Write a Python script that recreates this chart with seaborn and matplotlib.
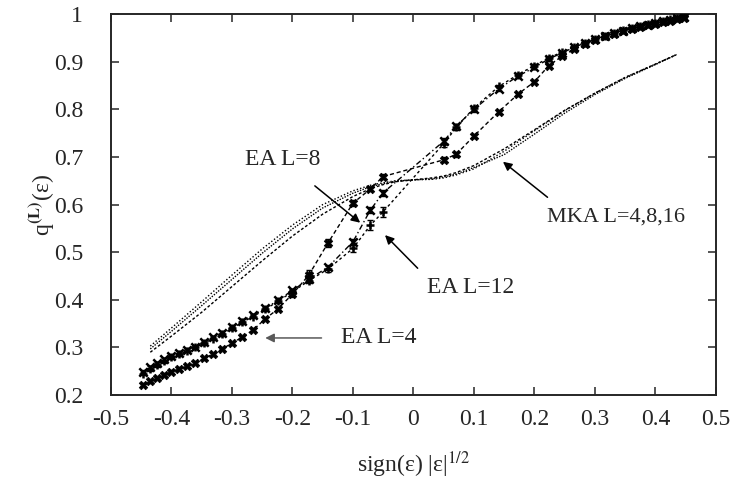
import numpy as np
import pandas as pd
import seaborn as sns
import matplotlib
matplotlib.use("Agg")
import matplotlib.pyplot as plt

# EA data points, x = sign(eps)|eps|^(1/2)
x_ea = [-0.447, -0.436, -0.424, -0.412, -0.400, -0.387, -0.374, -0.361, -0.346, -0.332,
        -0.316, -0.300, -0.283, -0.265, -0.245, -0.224, -0.200, -0.173, -0.141, -0.100,
        -0.071, -0.050, 0.050, 0.071, 0.100, 0.141, 0.173, 0.200, 0.224, 0.245,
        0.265, 0.283, 0.300, 0.316, 0.332, 0.346, 0.361, 0.374, 0.387, 0.400,
        0.412, 0.424, 0.436, 0.447]
q_ea4 = [0.222, 0.229, 0.236, 0.243, 0.249, 0.255, 0.261, 0.268, 0.277, 0.286,
         0.297, 0.309, 0.322, 0.337, 0.360, 0.381, 0.412, 0.452, 0.520, 0.603,
         0.633, 0.659, 0.694, 0.706, 0.744, 0.795, 0.832, 0.858, 0.892, 0.911,
         0.926, 0.937, 0.946, 0.953, 0.959, 0.964, 0.969, 0.973, 0.977, 0.980,
         0.983, 0.986, 0.989, 0.992]
q_ea8 = [0.249, 0.258, 0.267, 0.275, 0.282, 0.289, 0.295, 0.302, 0.311, 0.321,
         0.331, 0.343, 0.356, 0.368, 0.382, 0.399, 0.420, 0.443, 0.469, 0.522,
         0.589, 0.625, 0.733, 0.765, 0.800, 0.843, 0.870, 0.888, 0.906, 0.918,
         0.930, 0.939, 0.947, 0.954, 0.960, 0.965, 0.970, 0.974, 0.978, 0.981,
         0.985, 0.988, 0.991, 0.994]
q_ea12 = [0.245, 0.254, 0.263, 0.271, 0.279, 0.286, 0.293, 0.300, 0.309, 0.318,
          0.328, 0.340, 0.353, 0.365, 0.380, 0.397, 0.417, 0.440, 0.465, 0.508,
          0.557, 0.585, 0.728, 0.762, 0.803, 0.848, 0.873, 0.892, 0.908, 0.920,
          0.931, 0.940, 0.948, 0.955, 0.961, 0.966, 0.971, 0.975, 0.979, 0.982,
          0.986, 0.989, 0.992, 0.995]
err_ea4 = [0.003] * 16 + [0.005, 0.010, 0.008, 0.006, 0.005, 0.005,
                          0.005, 0.005, 0.005, 0.004] + [0.003] * 18
err_ea8 = [0.003] * 17 + [0.004, 0.005, 0.006, 0.006, 0.006,
                          0.006, 0.005, 0.005, 0.004] + [0.003] * 18
err_ea12 = [0.003] * 17 + [0.004, 0.006, 0.008, 0.010, 0.010,
                           0.008, 0.006, 0.005, 0.004] + [0.003] * 18

# MKA curves
x_mka = [-0.435, -0.40, -0.35, -0.30, -0.25, -0.20, -0.15, -0.10, -0.07, -0.05, -0.03,
         0.0, 0.03, 0.05, 0.07, 0.10, 0.15, 0.20, 0.25, 0.30, 0.35, 0.40, 0.435]
q_mka4 = [0.303, 0.341, 0.396, 0.452, 0.507, 0.557, 0.600, 0.629, 0.641, 0.646, 0.650,
          0.652, 0.653, 0.656, 0.662, 0.675, 0.712, 0.755, 0.797, 0.834, 0.867, 0.895, 0.915]
q_mka8 = [0.297, 0.334, 0.388, 0.443, 0.498, 0.549, 0.593, 0.624, 0.638, 0.644, 0.649,
          0.652, 0.654, 0.658, 0.664, 0.678, 0.705, 0.748, 0.792, 0.831, 0.865, 0.894, 0.915]
q_mka16 = [0.290, 0.324, 0.374, 0.428, 0.482, 0.534, 0.580, 0.617, 0.634, 0.642, 0.648,
           0.652, 0.656, 0.660, 0.667, 0.682, 0.717, 0.757, 0.798, 0.834, 0.867, 0.895, 0.915]

df_ea = pd.concat([
    pd.DataFrame({"x": x_ea, "q": q_ea4, "err": err_ea4, "L": "4"}),
    pd.DataFrame({"x": x_ea, "q": q_ea8, "err": err_ea8, "L": "8"}),
    pd.DataFrame({"x": x_ea, "q": q_ea12, "err": err_ea12, "L": "12"}),
])
df_mka = pd.concat([
    pd.DataFrame({"x": x_mka, "q": q_mka4, "L": "4"}),
    pd.DataFrame({"x": x_mka, "q": q_mka8, "L": "8"}),
    pd.DataFrame({"x": x_mka, "q": q_mka16, "L": "16"}),
])

sns.set_style("ticks")
plt.rcParams["font.family"] = ["Liberation Serif", "DejaVu Serif"]
plt.rcParams["mathtext.fontset"] = "stix"

fig = plt.figure(figsize=(7.35, 4.86), dpi=100)
ax = fig.add_axes([0.151, 0.187, 0.823, 0.784])

sns.lineplot(data=df_mka, x="x", y="q", style="L", color="k", linewidth=1.0,
             dashes={"4": (1, 1.5), "8": (1, 1), "16": (2, 1.5)},
             legend=False, ax=ax, sort=False)

sns.lineplot(data=df_ea, x="x", y="q", style="L", color="k", linewidth=1.0,
             dashes={"4": (3, 2), "8": (4, 2, 1, 2), "12": (2, 2)},
             legend=False, ax=ax, sort=False)

ea_markers = {"4": ("X", 38), "8": ("x", 36), "12": ("+", 40)}
for lab, grp in df_ea.groupby("L"):
    m, sz = ea_markers[lab]
    sns.scatterplot(x=grp["x"], y=grp["q"], marker=m, s=sz, color="k",
                    linewidth=1.8 if m != "X" else 0.5, edgecolor="k",
                    ax=ax, legend=False, zorder=4)
    ax.errorbar(grp["x"], grp["q"], yerr=grp["err"], fmt="none", ecolor="k",
                elinewidth=1.0, capsize=2.5, capthick=1.0, zorder=4)

arrow = dict(arrowstyle="-|>", color="k", lw=1.1, mutation_scale=13)
fs = 17
ax.annotate("EA L=8", xy=(-0.088, 0.562), xytext=(-0.216, 0.694),
            fontsize=fs, ha="center", va="center",
            arrowprops=dict(arrow, shrinkA=14, shrinkB=0))
ax.annotate("EA L=12", xy=(-0.047, 0.536), xytext=(0.022, 0.425),
            fontsize=fs, ha="left", va="center",
            arrowprops=dict(arrow, shrinkA=6, shrinkB=0, relpos=(0, 1)))
ax.annotate("EA L=4", xy=(-0.245, 0.32), xytext=(-0.119, 0.32),
            fontsize=fs, ha="left", va="center",
            arrowprops=dict(arrow, color="0.35", shrinkA=12, shrinkB=0, relpos=(0, 0.5)))
ax.annotate("MKA L=4,8,16", xy=(0.148, 0.69), xytext=(0.22, 0.574),
            fontsize=16, ha="left", va="center",
            arrowprops=dict(arrow, shrinkA=8, shrinkB=0, relpos=(0.1, 1)))

ax.set_xlim(-0.5, 0.5)
ax.set_ylim(0.2, 1.0)
xt = np.round(np.arange(-0.5, 0.51, 0.1), 1)
yt = np.round(np.arange(0.2, 1.01, 0.1), 1)
ax.set_xticks(xt)
ax.set_xticklabels(["0" if v == 0 else f"{v:g}" for v in xt])
ax.set_yticks(yt)
ax.set_yticklabels([f"{v:g}" for v in yt])
ax.tick_params(direction="in", top=True, right=True, length=6, width=1.1,
               labelsize=17)
ax.tick_params(axis="x", pad=10)
ax.tick_params(axis="y", pad=20)
for s in ax.spines.values():
    s.set_linewidth(1.4)
    s.set_visible(True)

ax.set_xlabel(r"sign(ε) |ε|$^{1/2}$", fontsize=17, labelpad=14)
ax.set_ylabel(r"q$^{\mathbf{(L)}}$(ε)", fontsize=17, labelpad=-2)

fig.savefig("out.png", dpi=100)
